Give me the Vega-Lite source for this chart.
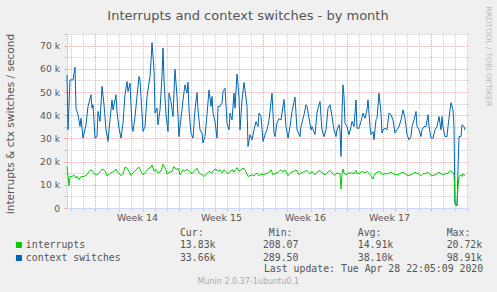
{
  "$schema": "https://vega.github.io/schema/vega-lite/v6.json",
  "width": 401,
  "height": 174,
  "autosize": "none",
  "padding": {"left": 67, "top": 34, "right": 29, "bottom": 84},
  "background": "#f0f0f0",
  "title": {
    "text": "Interrupts and context switches - by month",
    "font": "DejaVu Sans",
    "fontSize": 13,
    "fontWeight": "normal",
    "color": "#555555",
    "anchor": "middle",
    "frame": "group",
    "baseline": "alphabetic",
    "dx": -19.5,
    "offset": -26.6
  },
  "datasets": {
    "days": [
      {"t": "2020-03-27T00:00"}, {"t": "2020-03-28T00:00"}, {"t": "2020-03-30T00:00"}, {"t": "2020-03-31T00:00"},
      {"t": "2020-04-01T00:00"}, {"t": "2020-04-02T00:00"}, {"t": "2020-04-03T00:00"}, {"t": "2020-04-04T00:00"},
      {"t": "2020-04-06T00:00"}, {"t": "2020-04-07T00:00"}, {"t": "2020-04-08T00:00"}, {"t": "2020-04-09T00:00"},
      {"t": "2020-04-10T00:00"}, {"t": "2020-04-11T00:00"}, {"t": "2020-04-13T00:00"}, {"t": "2020-04-14T00:00"},
      {"t": "2020-04-15T00:00"}, {"t": "2020-04-16T00:00"}, {"t": "2020-04-17T00:00"}, {"t": "2020-04-18T00:00"},
      {"t": "2020-04-20T00:00"}, {"t": "2020-04-21T00:00"}, {"t": "2020-04-22T00:00"}, {"t": "2020-04-23T00:00"},
      {"t": "2020-04-24T00:00"}, {"t": "2020-04-25T00:00"}, {"t": "2020-04-27T00:00"}, {"t": "2020-04-28T00:00"},
      {"t": "2020-04-29T00:00"}
    ],
    "weeks": [
      {"t": "2020-03-29T00:00"}, {"t": "2020-04-05T00:00"}, {"t": "2020-04-12T00:00"}, {"t": "2020-04-19T00:00"}, {"t": "2020-04-26T00:00"}
    ],
    "ctx": [
      {"t": "2020-03-26T16:00", "v": 57400}, {"t": "2020-03-26T18:00", "v": 33700}, {"t": "2020-03-26T22:00", "v": 55200},
      {"t": "2020-03-27T04:00", "v": 55200}, {"t": "2020-03-27T08:00", "v": 60700}, {"t": "2020-03-27T10:00", "v": 43000},
      {"t": "2020-03-27T14:00", "v": 40200}, {"t": "2020-03-27T18:00", "v": 35100}, {"t": "2020-03-27T20:00", "v": 38700},
      {"t": "2020-03-28T00:00", "v": 30100}, {"t": "2020-03-28T06:00", "v": 35900}, {"t": "2020-03-28T10:00", "v": 43800},
      {"t": "2020-03-28T16:00", "v": 48800}, {"t": "2020-03-28T18:00", "v": 43000}, {"t": "2020-03-28T20:00", "v": 44500},
      {"t": "2020-03-29T00:00", "v": 30100}, {"t": "2020-03-29T04:00", "v": 30800}, {"t": "2020-03-29T06:00", "v": 41600},
      {"t": "2020-03-29T10:00", "v": 37300}, {"t": "2020-03-29T14:00", "v": 52400}, {"t": "2020-03-29T18:00", "v": 44500},
      {"t": "2020-03-29T22:00", "v": 33700}, {"t": "2020-03-30T02:00", "v": 28700}, {"t": "2020-03-30T06:00", "v": 38000},
      {"t": "2020-03-30T10:00", "v": 46600}, {"t": "2020-03-30T12:00", "v": 42300}, {"t": "2020-03-30T18:00", "v": 48800},
      {"t": "2020-03-30T20:00", "v": 41600}, {"t": "2020-03-31T00:00", "v": 34400}, {"t": "2020-03-31T04:00", "v": 30100},
      {"t": "2020-03-31T08:00", "v": 36600}, {"t": "2020-03-31T12:00", "v": 48800}, {"t": "2020-03-31T16:00", "v": 54500},
      {"t": "2020-03-31T18:00", "v": 50200}, {"t": "2020-03-31T22:00", "v": 53800}, {"t": "2020-04-01T02:00", "v": 35100},
      {"t": "2020-04-01T04:00", "v": 33000}, {"t": "2020-04-01T08:00", "v": 39400}, {"t": "2020-04-01T12:00", "v": 48100},
      {"t": "2020-04-01T16:00", "v": 56700}, {"t": "2020-04-01T18:00", "v": 55200}, {"t": "2020-04-01T20:00", "v": 48100},
      {"t": "2020-04-02T00:00", "v": 33000}, {"t": "2020-04-02T04:00", "v": 35100}, {"t": "2020-04-02T08:00", "v": 48100},
      {"t": "2020-04-02T14:00", "v": 56700}, {"t": "2020-04-02T16:00", "v": 63100}, {"t": "2020-04-02T18:00", "v": 71300},
      {"t": "2020-04-02T22:00", "v": 59500}, {"t": "2020-04-03T00:00", "v": 40900}, {"t": "2020-04-03T04:00", "v": 43000},
      {"t": "2020-04-03T06:00", "v": 35900}, {"t": "2020-04-03T10:00", "v": 42300}, {"t": "2020-04-03T14:00", "v": 56700},
      {"t": "2020-04-03T16:00", "v": 68900}, {"t": "2020-04-03T18:00", "v": 55200}, {"t": "2020-04-03T22:00", "v": 40200},
      {"t": "2020-04-04T02:00", "v": 33000}, {"t": "2020-04-04T04:00", "v": 49500}, {"t": "2020-04-04T08:00", "v": 45900},
      {"t": "2020-04-04T12:00", "v": 39400}, {"t": "2020-04-04T16:00", "v": 59800}, {"t": "2020-04-04T20:00", "v": 48100},
      {"t": "2020-04-05T00:00", "v": 30800}, {"t": "2020-04-05T02:00", "v": 35100}, {"t": "2020-04-05T06:00", "v": 42300},
      {"t": "2020-04-05T08:00", "v": 46600}, {"t": "2020-04-05T12:00", "v": 53100}, {"t": "2020-04-05T16:00", "v": 49500},
      {"t": "2020-04-05T18:00", "v": 54200}, {"t": "2020-04-05T20:00", "v": 42300}, {"t": "2020-04-06T00:00", "v": 32300},
      {"t": "2020-04-06T04:00", "v": 30100}, {"t": "2020-04-06T08:00", "v": 42300}, {"t": "2020-04-06T12:00", "v": 49700},
      {"t": "2020-04-06T14:00", "v": 42300}, {"t": "2020-04-06T18:00", "v": 33700}, {"t": "2020-04-06T22:00", "v": 32300},
      {"t": "2020-04-07T00:00", "v": 28000}, {"t": "2020-04-07T04:00", "v": 30800}, {"t": "2020-04-07T08:00", "v": 40200},
      {"t": "2020-04-07T12:00", "v": 50900}, {"t": "2020-04-07T16:00", "v": 43800}, {"t": "2020-04-07T18:00", "v": 48100},
      {"t": "2020-04-07T20:00", "v": 40900}, {"t": "2020-04-08T00:00", "v": 37300}, {"t": "2020-04-08T04:00", "v": 30100},
      {"t": "2020-04-08T06:00", "v": 43800}, {"t": "2020-04-08T10:00", "v": 43800}, {"t": "2020-04-08T14:00", "v": 45200},
      {"t": "2020-04-08T16:00", "v": 50200}, {"t": "2020-04-08T20:00", "v": 51600}, {"t": "2020-04-09T00:00", "v": 36600},
      {"t": "2020-04-09T04:00", "v": 33700}, {"t": "2020-04-09T06:00", "v": 40900}, {"t": "2020-04-09T10:00", "v": 38000},
      {"t": "2020-04-09T14:00", "v": 49500}, {"t": "2020-04-09T16:00", "v": 43000}, {"t": "2020-04-09T20:00", "v": 57800},
      {"t": "2020-04-10T00:00", "v": 48100}, {"t": "2020-04-10T02:00", "v": 33700}, {"t": "2020-04-10T06:00", "v": 46600},
      {"t": "2020-04-10T10:00", "v": 54100}, {"t": "2020-04-10T12:00", "v": 50900}, {"t": "2020-04-10T16:00", "v": 43800},
      {"t": "2020-04-10T18:00", "v": 26500}, {"t": "2020-04-10T22:00", "v": 31600}, {"t": "2020-04-11T02:00", "v": 29400},
      {"t": "2020-04-11T06:00", "v": 33700}, {"t": "2020-04-11T10:00", "v": 37300}, {"t": "2020-04-11T14:00", "v": 35100},
      {"t": "2020-04-11T16:00", "v": 40900}, {"t": "2020-04-11T20:00", "v": 39400}, {"t": "2020-04-12T00:00", "v": 28700},
      {"t": "2020-04-12T04:00", "v": 31600}, {"t": "2020-04-12T08:00", "v": 33700}, {"t": "2020-04-12T12:00", "v": 38000},
      {"t": "2020-04-12T18:00", "v": 49500}, {"t": "2020-04-12T22:00", "v": 32300}, {"t": "2020-04-13T00:00", "v": 30800},
      {"t": "2020-04-13T04:00", "v": 36600}, {"t": "2020-04-13T08:00", "v": 38500}, {"t": "2020-04-13T12:00", "v": 38000},
      {"t": "2020-04-13T18:00", "v": 46800}, {"t": "2020-04-13T22:00", "v": 35100}, {"t": "2020-04-14T02:00", "v": 30100},
      {"t": "2020-04-14T06:00", "v": 35100}, {"t": "2020-04-14T10:00", "v": 41600}, {"t": "2020-04-14T16:00", "v": 47800},
      {"t": "2020-04-14T20:00", "v": 33700}, {"t": "2020-04-15T02:00", "v": 30800}, {"t": "2020-04-15T04:00", "v": 35100},
      {"t": "2020-04-15T10:00", "v": 40200}, {"t": "2020-04-15T14:00", "v": 44500}, {"t": "2020-04-15T16:00", "v": 43800},
      {"t": "2020-04-15T20:00", "v": 38700}, {"t": "2020-04-16T00:00", "v": 33700}, {"t": "2020-04-16T02:00", "v": 35100},
      {"t": "2020-04-16T08:00", "v": 31600}, {"t": "2020-04-16T12:00", "v": 40900}, {"t": "2020-04-16T14:00", "v": 43000},
      {"t": "2020-04-16T18:00", "v": 45900}, {"t": "2020-04-16T20:00", "v": 39400}, {"t": "2020-04-16T22:00", "v": 33700},
      {"t": "2020-04-17T02:00", "v": 30800}, {"t": "2020-04-17T06:00", "v": 33700}, {"t": "2020-04-17T10:00", "v": 43000},
      {"t": "2020-04-17T14:00", "v": 44500}, {"t": "2020-04-17T18:00", "v": 39400}, {"t": "2020-04-17T22:00", "v": 33700},
      {"t": "2020-04-18T02:00", "v": 30800}, {"t": "2020-04-18T04:00", "v": 33700}, {"t": "2020-04-18T08:00", "v": 35900},
      {"t": "2020-04-18T10:00", "v": 33700}, {"t": "2020-04-18T12:00", "v": 22200}, {"t": "2020-04-18T14:00", "v": 40900},
      {"t": "2020-04-18T16:00", "v": 53100}, {"t": "2020-04-18T18:00", "v": 48100}, {"t": "2020-04-18T20:00", "v": 36600},
      {"t": "2020-04-19T00:00", "v": 35100}, {"t": "2020-04-19T04:00", "v": 31600}, {"t": "2020-04-19T08:00", "v": 35100},
      {"t": "2020-04-19T10:00", "v": 37300}, {"t": "2020-04-19T14:00", "v": 35100}, {"t": "2020-04-19T18:00", "v": 46600},
      {"t": "2020-04-19T20:00", "v": 34400}, {"t": "2020-04-20T00:00", "v": 34400}, {"t": "2020-04-20T04:00", "v": 37300},
      {"t": "2020-04-20T08:00", "v": 40900}, {"t": "2020-04-20T12:00", "v": 38700}, {"t": "2020-04-20T16:00", "v": 42300},
      {"t": "2020-04-20T18:00", "v": 46600}, {"t": "2020-04-20T22:00", "v": 35100}, {"t": "2020-04-21T00:00", "v": 31600},
      {"t": "2020-04-21T04:00", "v": 33000}, {"t": "2020-04-21T06:00", "v": 29400}, {"t": "2020-04-21T10:00", "v": 38000},
      {"t": "2020-04-21T12:00", "v": 38700}, {"t": "2020-04-21T16:00", "v": 49500}, {"t": "2020-04-21T20:00", "v": 40900},
      {"t": "2020-04-21T22:00", "v": 32300}, {"t": "2020-04-22T00:00", "v": 33700}, {"t": "2020-04-22T04:00", "v": 34400},
      {"t": "2020-04-22T08:00", "v": 33700}, {"t": "2020-04-22T12:00", "v": 40900}, {"t": "2020-04-22T16:00", "v": 40200},
      {"t": "2020-04-22T20:00", "v": 38000}, {"t": "2020-04-23T00:00", "v": 32300}, {"t": "2020-04-23T04:00", "v": 33700},
      {"t": "2020-04-23T08:00", "v": 35100}, {"t": "2020-04-23T12:00", "v": 38000}, {"t": "2020-04-23T16:00", "v": 42300},
      {"t": "2020-04-23T20:00", "v": 38700}, {"t": "2020-04-24T00:00", "v": 31600}, {"t": "2020-04-24T04:00", "v": 29400},
      {"t": "2020-04-24T08:00", "v": 30800}, {"t": "2020-04-24T10:00", "v": 35100}, {"t": "2020-04-24T14:00", "v": 38000},
      {"t": "2020-04-24T18:00", "v": 41600}, {"t": "2020-04-24T20:00", "v": 35100}, {"t": "2020-04-25T00:00", "v": 33700},
      {"t": "2020-04-25T04:00", "v": 30800}, {"t": "2020-04-25T06:00", "v": 33700}, {"t": "2020-04-25T10:00", "v": 35100},
      {"t": "2020-04-25T14:00", "v": 35100}, {"t": "2020-04-25T18:00", "v": 40200}, {"t": "2020-04-25T20:00", "v": 35100},
      {"t": "2020-04-26T00:00", "v": 30100}, {"t": "2020-04-26T04:00", "v": 30100}, {"t": "2020-04-26T08:00", "v": 33700},
      {"t": "2020-04-26T12:00", "v": 35100}, {"t": "2020-04-26T16:00", "v": 39400}, {"t": "2020-04-26T20:00", "v": 33700},
      {"t": "2020-04-26T22:00", "v": 39400}, {"t": "2020-04-27T00:00", "v": 35100}, {"t": "2020-04-27T04:00", "v": 30800},
      {"t": "2020-04-27T08:00", "v": 30800}, {"t": "2020-04-27T10:00", "v": 35100}, {"t": "2020-04-27T14:00", "v": 42300},
      {"t": "2020-04-27T16:00", "v": 45400}, {"t": "2020-04-27T20:00", "v": 42300}, {"t": "2020-04-27T22:00", "v": 35100},
      {"t": "2020-04-28T00:00", "v": 2100}, {"t": "2020-04-28T04:00", "v": 1000}, {"t": "2020-04-28T06:00", "v": 16500},
      {"t": "2020-04-28T08:00", "v": 30800}, {"t": "2020-04-28T12:00", "v": 30800}, {"t": "2020-04-28T14:00", "v": 35900},
      {"t": "2020-04-28T18:00", "v": 35100}, {"t": "2020-04-28T20:00", "v": 33660}
    ],
    "intr": [
      {"t": "2020-03-26T16:00", "v": 17900}, {"t": "2020-03-26T20:00", "v": 9600}, {"t": "2020-03-26T22:00", "v": 13600},
      {"t": "2020-03-27T02:00", "v": 13600}, {"t": "2020-03-27T06:00", "v": 14300}, {"t": "2020-03-27T10:00", "v": 12900},
      {"t": "2020-03-27T12:00", "v": 13600}, {"t": "2020-03-27T16:00", "v": 12200}, {"t": "2020-03-27T20:00", "v": 13600},
      {"t": "2020-03-28T02:00", "v": 13600}, {"t": "2020-03-28T08:00", "v": 14300}, {"t": "2020-03-28T12:00", "v": 15800},
      {"t": "2020-03-28T16:00", "v": 16500}, {"t": "2020-03-28T20:00", "v": 15800}, {"t": "2020-03-29T00:00", "v": 14300},
      {"t": "2020-03-29T04:00", "v": 14300}, {"t": "2020-03-29T08:00", "v": 15100}, {"t": "2020-03-29T12:00", "v": 16200},
      {"t": "2020-03-29T16:00", "v": 16800}, {"t": "2020-03-29T20:00", "v": 15800}, {"t": "2020-03-30T00:00", "v": 13900},
      {"t": "2020-03-30T06:00", "v": 14800}, {"t": "2020-03-30T10:00", "v": 15400}, {"t": "2020-03-30T14:00", "v": 15800},
      {"t": "2020-03-30T18:00", "v": 16800}, {"t": "2020-03-30T22:00", "v": 15400}, {"t": "2020-03-31T04:00", "v": 13900},
      {"t": "2020-03-31T08:00", "v": 14800}, {"t": "2020-03-31T12:00", "v": 17600}, {"t": "2020-03-31T16:00", "v": 17200},
      {"t": "2020-03-31T20:00", "v": 15800}, {"t": "2020-04-01T00:00", "v": 14000}, {"t": "2020-04-01T04:00", "v": 15100},
      {"t": "2020-04-01T10:00", "v": 16500}, {"t": "2020-04-01T16:00", "v": 17600}, {"t": "2020-04-01T20:00", "v": 15800},
      {"t": "2020-04-02T00:00", "v": 14300}, {"t": "2020-04-02T06:00", "v": 15800}, {"t": "2020-04-02T10:00", "v": 16800},
      {"t": "2020-04-02T16:00", "v": 17600}, {"t": "2020-04-02T18:00", "v": 18600}, {"t": "2020-04-02T22:00", "v": 15800},
      {"t": "2020-04-03T02:00", "v": 16500}, {"t": "2020-04-03T06:00", "v": 15100}, {"t": "2020-04-03T12:00", "v": 15800},
      {"t": "2020-04-03T16:00", "v": 18900}, {"t": "2020-04-03T22:00", "v": 16500}, {"t": "2020-04-04T00:00", "v": 14800},
      {"t": "2020-04-04T06:00", "v": 15500}, {"t": "2020-04-04T10:00", "v": 15800}, {"t": "2020-04-04T14:00", "v": 17900},
      {"t": "2020-04-04T18:00", "v": 16500}, {"t": "2020-04-04T22:00", "v": 17200}, {"t": "2020-04-05T02:00", "v": 14300},
      {"t": "2020-04-05T08:00", "v": 16500}, {"t": "2020-04-05T12:00", "v": 15800}, {"t": "2020-04-05T16:00", "v": 16800},
      {"t": "2020-04-05T20:00", "v": 15800}, {"t": "2020-04-06T02:00", "v": 14800}, {"t": "2020-04-06T06:00", "v": 15800},
      {"t": "2020-04-06T12:00", "v": 17200}, {"t": "2020-04-06T16:00", "v": 15100}, {"t": "2020-04-06T22:00", "v": 14300},
      {"t": "2020-04-07T02:00", "v": 13600}, {"t": "2020-04-07T08:00", "v": 14800}, {"t": "2020-04-07T12:00", "v": 15800},
      {"t": "2020-04-07T18:00", "v": 15100}, {"t": "2020-04-07T22:00", "v": 16500}, {"t": "2020-04-08T02:00", "v": 16800},
      {"t": "2020-04-08T06:00", "v": 15800}, {"t": "2020-04-08T10:00", "v": 16500}, {"t": "2020-04-08T14:00", "v": 15100},
      {"t": "2020-04-08T18:00", "v": 16500}, {"t": "2020-04-08T22:00", "v": 15800}, {"t": "2020-04-09T02:00", "v": 14800},
      {"t": "2020-04-09T06:00", "v": 15800}, {"t": "2020-04-09T12:00", "v": 16500}, {"t": "2020-04-09T14:00", "v": 15400},
      {"t": "2020-04-09T20:00", "v": 17400}, {"t": "2020-04-10T00:00", "v": 15800}, {"t": "2020-04-10T04:00", "v": 16500},
      {"t": "2020-04-10T08:00", "v": 17200}, {"t": "2020-04-10T12:00", "v": 16500}, {"t": "2020-04-10T18:00", "v": 13600},
      {"t": "2020-04-10T22:00", "v": 13900}, {"t": "2020-04-11T02:00", "v": 14300}, {"t": "2020-04-11T06:00", "v": 13900},
      {"t": "2020-04-11T12:00", "v": 15100}, {"t": "2020-04-11T16:00", "v": 13900}, {"t": "2020-04-11T20:00", "v": 14800},
      {"t": "2020-04-12T00:00", "v": 14300}, {"t": "2020-04-12T06:00", "v": 14800}, {"t": "2020-04-12T10:00", "v": 15100},
      {"t": "2020-04-12T16:00", "v": 16500}, {"t": "2020-04-12T20:00", "v": 14300}, {"t": "2020-04-13T00:00", "v": 14800},
      {"t": "2020-04-13T06:00", "v": 15400}, {"t": "2020-04-13T12:00", "v": 16500}, {"t": "2020-04-13T16:00", "v": 15400},
      {"t": "2020-04-13T20:00", "v": 16500}, {"t": "2020-04-14T02:00", "v": 13900}, {"t": "2020-04-14T08:00", "v": 15400},
      {"t": "2020-04-14T14:00", "v": 15800}, {"t": "2020-04-14T18:00", "v": 16500}, {"t": "2020-04-15T00:00", "v": 14300},
      {"t": "2020-04-15T04:00", "v": 15100}, {"t": "2020-04-15T12:00", "v": 15800}, {"t": "2020-04-15T16:00", "v": 16200},
      {"t": "2020-04-15T22:00", "v": 14800}, {"t": "2020-04-16T02:00", "v": 15800}, {"t": "2020-04-16T08:00", "v": 14300},
      {"t": "2020-04-16T12:00", "v": 15400}, {"t": "2020-04-16T18:00", "v": 16200}, {"t": "2020-04-16T22:00", "v": 15100},
      {"t": "2020-04-17T04:00", "v": 14300}, {"t": "2020-04-17T08:00", "v": 15100}, {"t": "2020-04-17T14:00", "v": 16200},
      {"t": "2020-04-17T18:00", "v": 15100}, {"t": "2020-04-18T00:00", "v": 14000}, {"t": "2020-04-18T04:00", "v": 15100},
      {"t": "2020-04-18T08:00", "v": 14800}, {"t": "2020-04-18T10:00", "v": 14800}, {"t": "2020-04-18T12:00", "v": 8200},
      {"t": "2020-04-18T14:00", "v": 14500}, {"t": "2020-04-18T16:00", "v": 16800}, {"t": "2020-04-18T18:00", "v": 15100},
      {"t": "2020-04-18T22:00", "v": 14300}, {"t": "2020-04-19T04:00", "v": 15100}, {"t": "2020-04-19T08:00", "v": 15100},
      {"t": "2020-04-19T14:00", "v": 14800}, {"t": "2020-04-19T18:00", "v": 16200}, {"t": "2020-04-19T20:00", "v": 14800},
      {"t": "2020-04-20T02:00", "v": 15100}, {"t": "2020-04-20T06:00", "v": 15800}, {"t": "2020-04-20T12:00", "v": 15100},
      {"t": "2020-04-20T16:00", "v": 15800}, {"t": "2020-04-20T20:00", "v": 15000}, {"t": "2020-04-21T00:00", "v": 13900},
      {"t": "2020-04-21T04:00", "v": 12500}, {"t": "2020-04-21T06:00", "v": 13900}, {"t": "2020-04-21T10:00", "v": 15100},
      {"t": "2020-04-21T16:00", "v": 15800}, {"t": "2020-04-21T20:00", "v": 15100}, {"t": "2020-04-22T00:00", "v": 14300},
      {"t": "2020-04-22T04:00", "v": 14800}, {"t": "2020-04-22T10:00", "v": 14800}, {"t": "2020-04-22T16:00", "v": 15400},
      {"t": "2020-04-22T20:00", "v": 14800}, {"t": "2020-04-23T00:00", "v": 14300}, {"t": "2020-04-23T06:00", "v": 14300},
      {"t": "2020-04-23T12:00", "v": 15100}, {"t": "2020-04-23T16:00", "v": 15400}, {"t": "2020-04-23T20:00", "v": 14800},
      {"t": "2020-04-24T02:00", "v": 13900}, {"t": "2020-04-24T08:00", "v": 14300}, {"t": "2020-04-24T12:00", "v": 14800},
      {"t": "2020-04-24T16:00", "v": 15400}, {"t": "2020-04-24T22:00", "v": 14800}, {"t": "2020-04-25T04:00", "v": 13900},
      {"t": "2020-04-25T08:00", "v": 14800}, {"t": "2020-04-25T12:00", "v": 14800}, {"t": "2020-04-25T18:00", "v": 15400},
      {"t": "2020-04-25T22:00", "v": 14300}, {"t": "2020-04-26T04:00", "v": 13900}, {"t": "2020-04-26T08:00", "v": 14300},
      {"t": "2020-04-26T12:00", "v": 14800}, {"t": "2020-04-26T16:00", "v": 15400}, {"t": "2020-04-26T20:00", "v": 14800},
      {"t": "2020-04-27T00:00", "v": 14300}, {"t": "2020-04-27T04:00", "v": 14800}, {"t": "2020-04-27T08:00", "v": 14800},
      {"t": "2020-04-27T12:00", "v": 15400}, {"t": "2020-04-27T16:00", "v": 16200}, {"t": "2020-04-27T20:00", "v": 15100},
      {"t": "2020-04-27T22:00", "v": 14800}, {"t": "2020-04-28T00:00", "v": 1400}, {"t": "2020-04-28T04:00", "v": 1000},
      {"t": "2020-04-28T06:00", "v": 9300}, {"t": "2020-04-28T08:00", "v": 13600}, {"t": "2020-04-28T12:00", "v": 14300},
      {"t": "2020-04-28T14:00", "v": 13600}, {"t": "2020-04-28T16:00", "v": 14800}, {"t": "2020-04-28T20:00", "v": 13830}
    ]
  },
  "layer": [
    {
      "data": {"name": "days"},
      "mark": {"type": "rule", "color": "#c8c8c8", "strokeWidth": 1, "strokeDash": [1, 1], "xOffset": 0.5},
      "encoding": {
        "x": {"field": "t", "type": "temporal", "axis": null}
      }
    },
    {
      "data": {"name": "weeks"},
      "mark": {"type": "rule", "color": "#f2a0a0", "strokeWidth": 1, "strokeDash": [1, 1], "xOffset": 0.5},
      "encoding": {
        "x": {"field": "t", "type": "temporal", "axis": null}
      }
    },
    {
      "data": {"name": "ctx"},
      "mark": {"type": "line", "strokeWidth": 1, "strokeJoin": "round"},
      "encoding": {
        "x": {
          "field": "t",
          "type": "temporal",
          "scale": {"domain": [{"year": 2020, "month": 3, "date": 26, "hours": 16}, {"year": 2020, "month": 4, "date": 29, "hours": 2}]},
          "axis": {
            "orient": "bottom",
            "values": [
              {"year": 2020, "month": 3, "date": 27}, {"year": 2020, "month": 3, "date": 28}, {"year": 2020, "month": 3, "date": 29},
              {"year": 2020, "month": 3, "date": 30}, {"year": 2020, "month": 3, "date": 31}, {"year": 2020, "month": 4, "date": 1},
              {"year": 2020, "month": 4, "date": 2}, {"year": 2020, "month": 4, "date": 3}, {"year": 2020, "month": 4, "date": 4},
              {"year": 2020, "month": 4, "date": 5}, {"year": 2020, "month": 4, "date": 6}, {"year": 2020, "month": 4, "date": 7},
              {"year": 2020, "month": 4, "date": 8}, {"year": 2020, "month": 4, "date": 9}, {"year": 2020, "month": 4, "date": 10},
              {"year": 2020, "month": 4, "date": 11}, {"year": 2020, "month": 4, "date": 12}, {"year": 2020, "month": 4, "date": 13},
              {"year": 2020, "month": 4, "date": 14}, {"year": 2020, "month": 4, "date": 15}, {"year": 2020, "month": 4, "date": 16},
              {"year": 2020, "month": 4, "date": 17}, {"year": 2020, "month": 4, "date": 18}, {"year": 2020, "month": 4, "date": 19},
              {"year": 2020, "month": 4, "date": 20}, {"year": 2020, "month": 4, "date": 21}, {"year": 2020, "month": 4, "date": 22},
              {"year": 2020, "month": 4, "date": 23}, {"year": 2020, "month": 4, "date": 24}, {"year": 2020, "month": 4, "date": 25},
              {"year": 2020, "month": 4, "date": 26}, {"year": 2020, "month": 4, "date": 27}, {"year": 2020, "month": 4, "date": 28},
              {"year": 2020, "month": 4, "date": 29}
            ],
            "grid": false,
            "ticks": true,
            "tickSize": 3,
            "tickColor": {"condition": {"test": "day(datum.value) == 0", "value": "#f2a0a0"}, "value": "#c8c8c8"},
            "domainColor": "#cfd6f8",
            "labelExpr": "day(datum.value) == 3 && toNumber(timeFormat(datum.value, '%V')) < 18 ? 'Week ' + timeFormat(datum.value, '%V') : ''",
            "labelOffset": 6,
            "labelFont": "DejaVu Sans",
            "labelFontSize": 9.5,
            "labelColor": "#555555",
            "labelPadding": 1.5,
            "labelOverlap": false,
            "labelFlush": false,
            "labelBound": false,
            "title": "Last update: Tue Apr 28 22:05:09 2020",
            "titleFont": "DejaVu Sans Mono",
            "titleFontSize": 9.85,
            "titleFontWeight": "normal",
            "titleColor": "#555555",
            "titleAlign": "right",
            "titleAnchor": "start",
            "titleBaseline": "middle",
            "titleX": 415.7,
            "titleY": 60.7
          }
        },
        "y": {
          "field": "v",
          "type": "quantitative",
          "scale": {"domain": [0, 75000], "nice": false},
          "axis": {
            "orient": "left",
            "values": [0, 5000, 10000, 15000, 20000, 25000, 30000, 35000, 40000, 45000, 50000, 55000, 60000, 65000, 70000, 75000],
            "grid": true,
            "gridDash": [1, 1],
            "gridColor": {"condition": {"test": "datum.value % 10000 == 0", "value": "#f2a0a0"}, "value": "#c8c8c8"},
            "tickSize": 3,
            "tickColor": {"condition": {"test": "datum.value % 10000 == 0", "value": "#f2a0a0"}, "value": "#c8c8c8"},
            "domainColor": "#cfd6f8",
            "labelExpr": "datum.value % 10000 == 0 ? (datum.value == 0 ? '0' : (datum.value / 1000) + ' k') : ''",
            "labelFont": "DejaVu Sans",
            "labelFontSize": 9.2,
            "labelColor": "#555555",
            "labelPadding": 4.5,
            "labelOverlap": false,
            "labelBound": false,
            "labelFlush": false,
            "title": "interrupts & ctx switches / second",
            "titleFont": "DejaVu Sans",
            "titleFontSize": 10.6,
            "titleFontWeight": "normal",
            "titleColor": "#555555",
            "titleAngle": -90,
            "titleAlign": "center",
            "titleBaseline": "middle",
            "titleX": -56.5,
            "titleY": 89.5
          }
        },
        "color": {
          "datum": "context switches",
          "type": "nominal",
          "scale": {"domain": ["interrupts", "context switches"], "range": ["#00cc00", "#0066b3"]},
          "legend": {
            "orient": "none",
            "legendX": -53,
            "legendY": 194.2,
            "direction": "vertical",
            "padding": 0,
            "title": "\u200b\u00a0\u00a0\u00a0\u00a0\u00a0\u00a0\u00a0\u00a0\u00a0\u00a0\u00a0\u00a0\u00a0\u00a0\u00a0\u00a0\u00a0\u00a0\u00a0\u00a0\u00a0\u00a0\u00a0\u00a0\u00a0\u00a0\u00a0\u00a0Cur:\u00a0\u00a0\u00a0\u00a0\u00a0\u00a0\u00a0\u00a0\u00a0\u00a0\u00a0Min:\u00a0\u00a0\u00a0\u00a0\u00a0\u00a0\u00a0\u00a0\u00a0\u00a0\u00a0Avg:\u00a0\u00a0\u00a0\u00a0\u00a0\u00a0\u00a0\u00a0\u00a0\u00a0\u00a0Max:",
            "titleFont": "DejaVu Sans Mono",
            "titleFontSize": 9.85,
            "titleFontWeight": "normal",
            "titleColor": "#555555",
            "titleLimit": 1000,
            "titlePadding": 2,
            "symbolType": "square",
            "symbolSize": 9,
            "symbolStrokeWidth": 3,
            "symbolOpacity": 1,
            "labelFont": "DejaVu Sans Mono",
            "labelFontSize": 9.85,
            "labelColor": "#555555",
            "labelLimit": 1000,
            "labelOffset": 2,
            "rowPadding": -11,
            "labelExpr": "datum.label == 'interrupts' ? 'interrupts\u00a0\u00a0\u00a0\u00a0\u00a0\u00a0\u00a0\u00a0\u00a0\u00a0\u00a0\u00a0\u00a0\u00a0\u00a0\u00a013.83k\u00a0\u00a0\u00a0\u00a0\u00a0\u00a0\u00a0\u00a0208.07\u00a0\u00a0\u00a0\u00a0\u00a0\u00a0\u00a0\u00a0\u00a0\u00a014.91k\u00a0\u00a0\u00a0\u00a0\u00a0\u00a0\u00a0\u00a0\u00a020.72k' : 'context\u00a0switches\u00a0\u00a0\u00a0\u00a0\u00a0\u00a0\u00a0\u00a0\u00a0\u00a033.66k\u00a0\u00a0\u00a0\u00a0\u00a0\u00a0\u00a0\u00a0289.50\u00a0\u00a0\u00a0\u00a0\u00a0\u00a0\u00a0\u00a0\u00a0\u00a038.10k\u00a0\u00a0\u00a0\u00a0\u00a0\u00a0\u00a0\u00a0\u00a098.91k'"
          }
        }
      }
    },
    {
      "data": {"name": "intr"},
      "mark": {"type": "line", "strokeWidth": 1, "strokeJoin": "round"},
      "encoding": {
        "x": {
          "field": "t",
          "type": "temporal",
          "axis": {
            "orient": "top",
            "labels": false,
            "ticks": false,
            "domain": false,
            "grid": false,
            "title": "Munin 2.0.37-1ubuntu0.1",
            "titleFont": "DejaVu Sans",
            "titleFontSize": 8,
            "titleFontWeight": "normal",
            "titleColor": "#aaaaaa",
            "titleAlign": "center",
            "titleBaseline": "middle",
            "titleX": 180.8,
            "titleY": 247.3
          }
        },
        "y": {
          "field": "v",
          "type": "quantitative",
          "axis": {
            "orient": "right",
            "labels": false,
            "ticks": false,
            "domain": false,
            "grid": false,
            "title": "RRDTOOL / TOBI OETIKER",
            "titleFont": "DejaVu Sans",
            "titleFontSize": 7.75,
            "titleFontWeight": "normal",
            "titleColor": "#bbbbbb",
            "titleAngle": 90,
            "titleAlign": "center",
            "titleBaseline": "middle",
            "titleX": 19,
            "titleY": 22
          }
        },
        "color": {"datum": "interrupts", "type": "nominal"}
      }
    }
  ],
  "resolve": {"axis": {"x": "independent", "y": "independent"}},
  "config": {
    "view": {"fill": "white", "stroke": null},
    "axis": {"zindex": 0}
  }
}
